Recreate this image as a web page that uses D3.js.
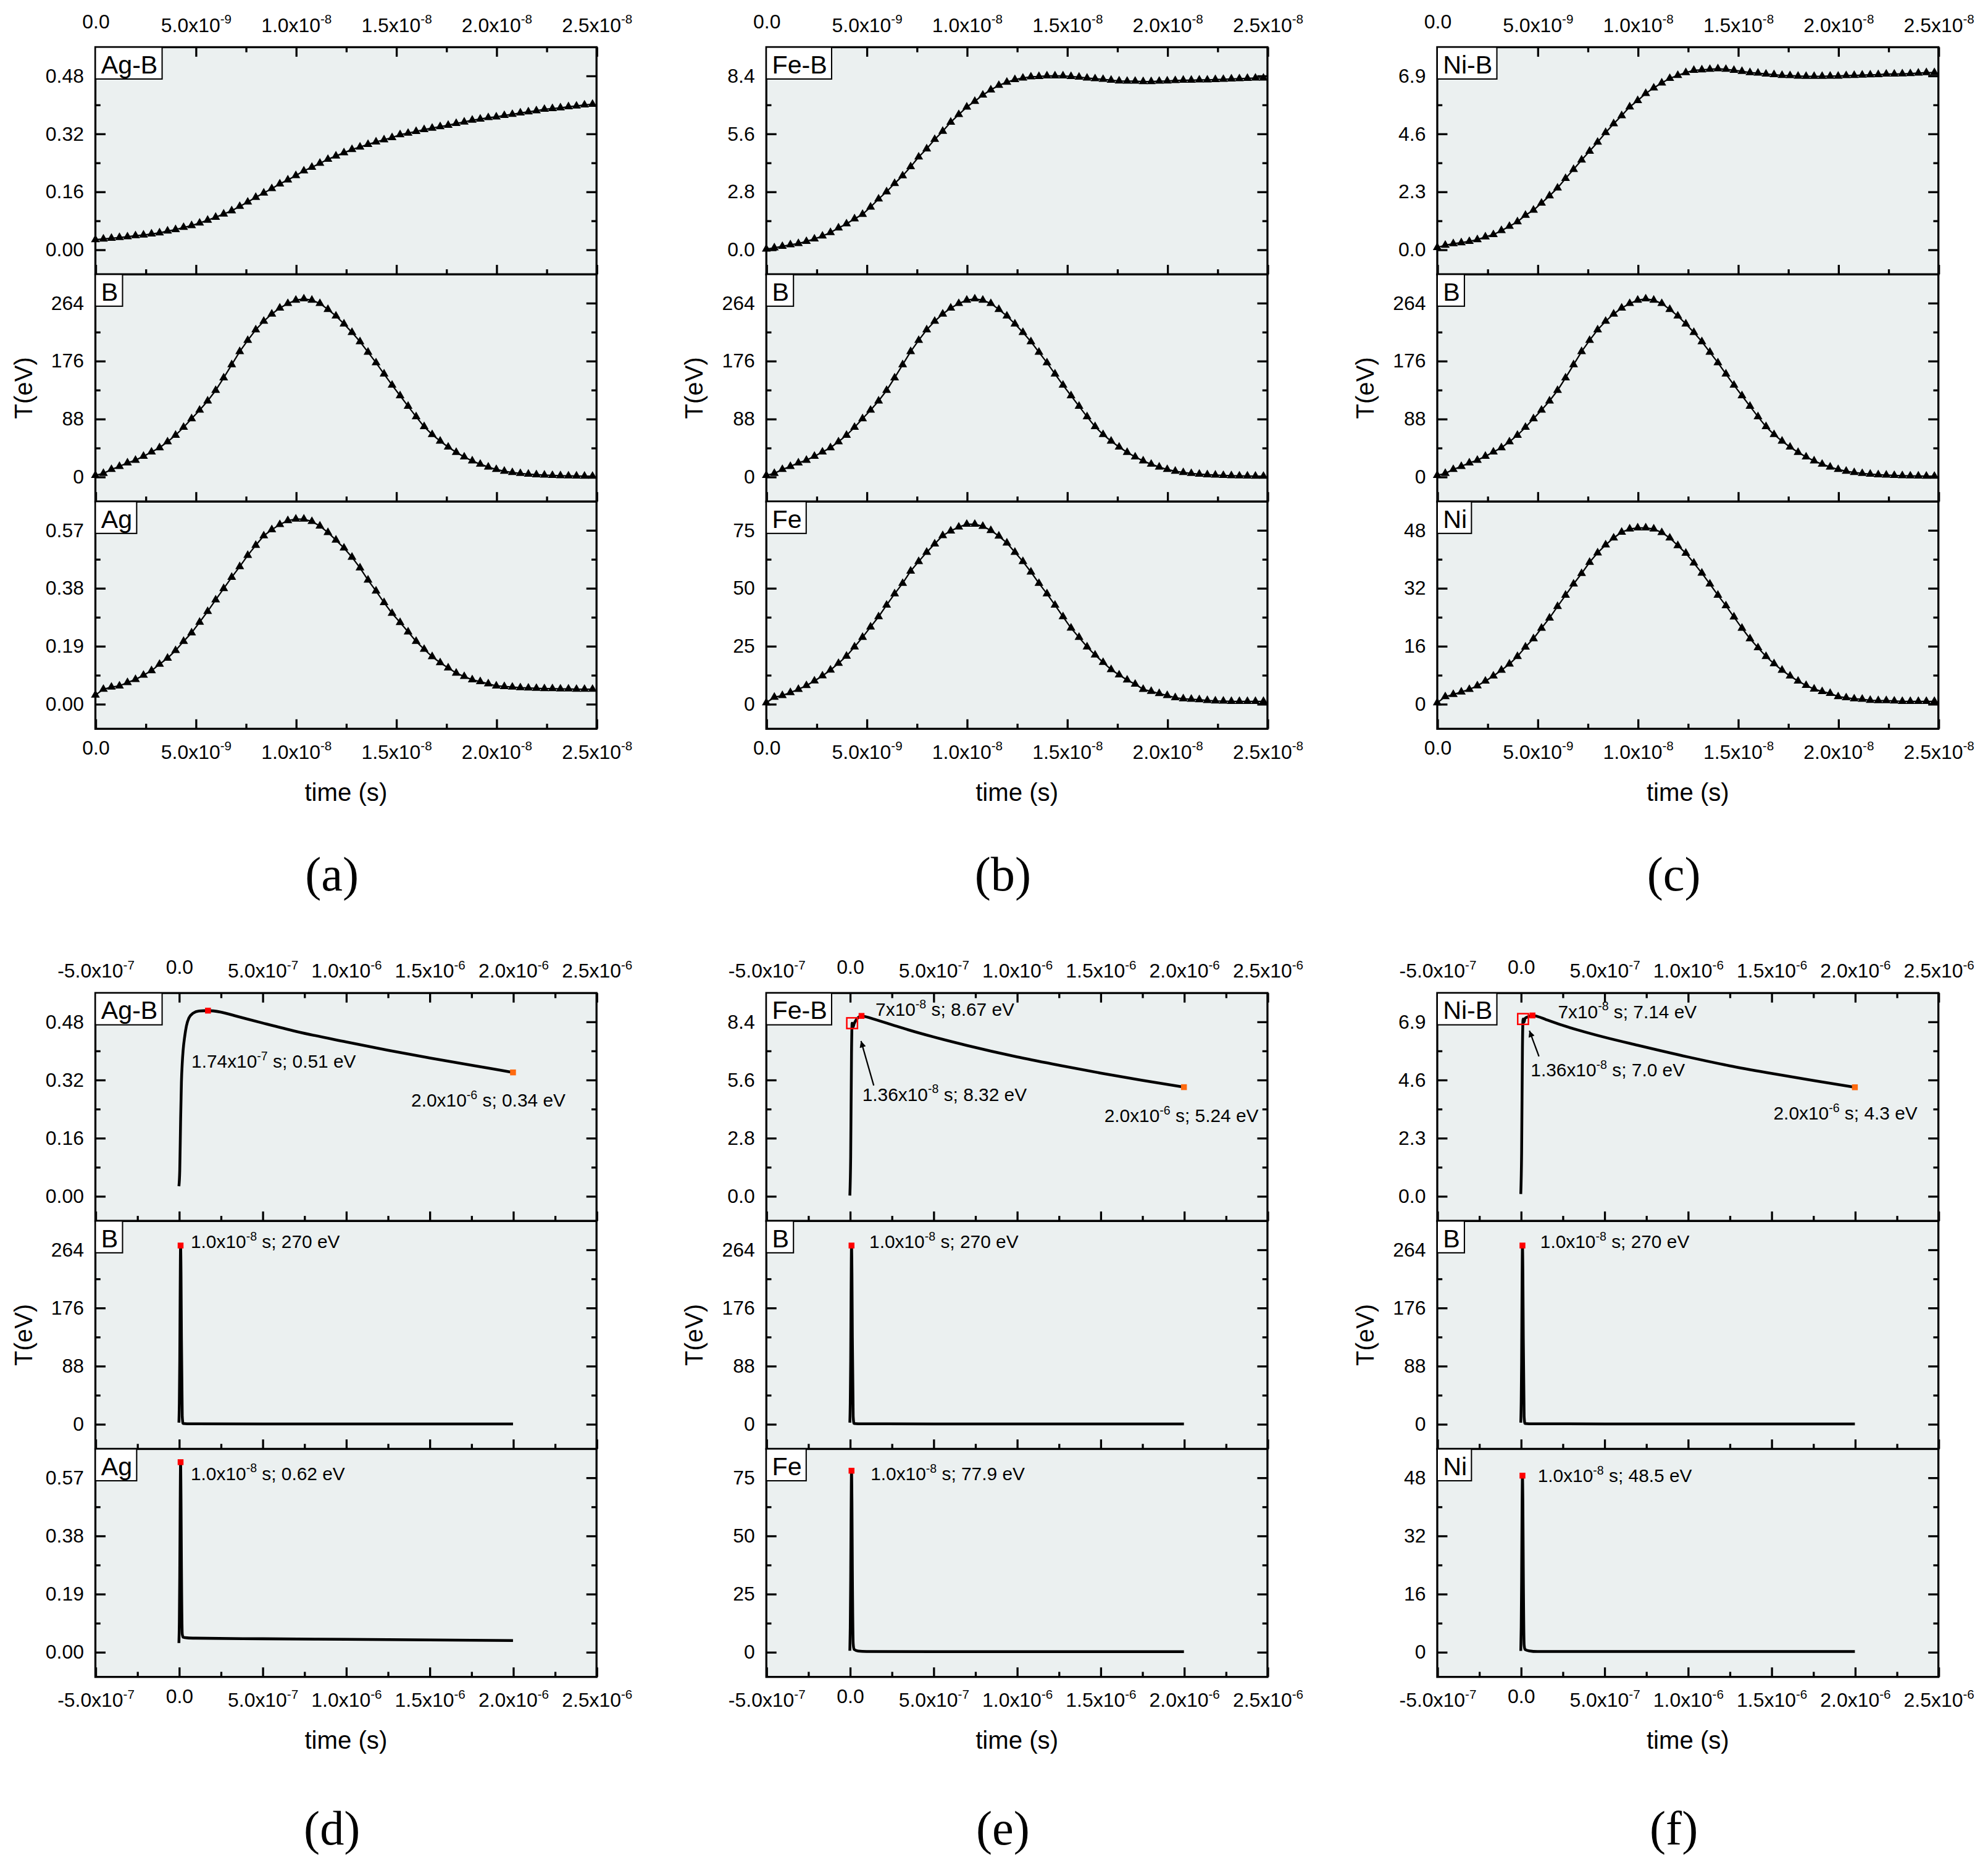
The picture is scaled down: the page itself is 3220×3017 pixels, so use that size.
<!DOCTYPE html>
<html>
<head>
<meta charset="utf-8">
<script src="https://cdnjs.cloudflare.com/ajax/libs/d3/7.8.5/d3.min.js"></script>
<style>
  html, body { margin: 0; padding: 0; background: #fff; overflow: hidden; }
  svg { display: block; }
</style>
</head>
<body>
<svg id="fig"></svg>
<script>
// ---------- short run: 0 .. 2.5e-8 s, one sample every 0.4 ns ----------
const tShort = d3.range(63).map(i => i * 0.4e-9);

const agbShort = [0.027, 0.029, 0.031, 0.033, 0.035, 0.038, 0.040, 0.043, 0.046, 0.051, 0.055, 0.061, 0.066,
  0.073, 0.081, 0.089, 0.098, 0.107, 0.119, 0.131, 0.144, 0.156, 0.168, 0.181, 0.192, 0.204, 0.217, 0.227,
  0.238, 0.249, 0.258, 0.267, 0.276, 0.283, 0.290, 0.297, 0.303, 0.309, 0.317, 0.321, 0.326, 0.331, 0.335,
  0.339, 0.343, 0.348, 0.352, 0.357, 0.360, 0.364, 0.366, 0.370, 0.373, 0.377, 0.380, 0.383, 0.387, 0.389,
  0.391, 0.394, 0.396, 0.399, 0.401];
const bShort = [2, 5, 11, 15.6, 21, 25, 31, 37.5, 44, 53, 63, 75, 88, 101, 115, 131, 150, 170, 190, 207, 223,
  236, 247, 256, 263, 268, 270, 268, 263, 254, 244, 232, 219, 205, 189, 173, 156, 139, 123, 107, 91, 76, 64,
  54, 45, 37, 30, 24, 19, 14.6, 11, 8.3, 6.3, 4.9, 3.9, 3, 2.4, 1.9, 1.5, 1.2, 1.0, 0.8, 0.7];
const agShort = [0.029, 0.048, 0.055, 0.059, 0.070, 0.080, 0.094, 0.109, 0.130, 0.150, 0.175, 0.205, 0.233,
  0.268, 0.303, 0.341, 0.378, 0.415, 0.450, 0.487, 0.520, 0.551, 0.571, 0.588, 0.601, 0.606, 0.606, 0.598,
  0.583, 0.562, 0.537, 0.511, 0.481, 0.446, 0.406, 0.370, 0.332, 0.297, 0.267, 0.236, 0.205, 0.179, 0.155,
  0.135, 0.118, 0.101, 0.090, 0.079, 0.073, 0.066, 0.059, 0.057, 0.055, 0.053, 0.052, 0.051, 0.050, 0.050,
  0.049, 0.049, 0.048, 0.048, 0.048];
const febShort = [0.02, 0.08, 0.15, 0.23, 0.29, 0.39, 0.51, 0.65, 0.82, 1.04, 1.24, 1.48, 1.70, 2.05, 2.44,
  2.79, 3.19, 3.56, 4.00, 4.47, 4.86, 5.32, 5.71, 6.15, 6.52, 6.88, 7.16, 7.46, 7.71, 7.93, 8.08, 8.21, 8.28,
  8.34, 8.36, 8.39, 8.39, 8.39, 8.36, 8.33, 8.28, 8.25, 8.22, 8.18, 8.14, 8.13, 8.13, 8.11, 8.11, 8.13, 8.14,
  8.16, 8.18, 8.18, 8.19, 8.19, 8.21, 8.22, 8.24, 8.25, 8.27, 8.28, 8.28];
const feShort = [0.5, 2.9, 3.6, 4.9, 6.3, 7.9, 9.9, 12.1, 14.6, 17.5, 20.6, 24.6, 28.7, 33.2, 37.6, 42.6, 47.5,
  52.0, 57.3, 61.4, 65.4, 69.0, 72.6, 74.6, 76.3, 77.5, 77.5, 76.6, 74.8, 72.4, 69.4, 65.4, 61.4, 56.9, 52.0,
  47.5, 42.6, 37.6, 32.7, 28.7, 24.6, 21.1, 17.9, 14.8, 12.5, 10.3, 8.5, 6.3, 5.4, 4.5, 3.6, 2.7, 2.2, 2.0,
  1.8, 1.5, 1.3, 1.2, 1.1, 1.1, 1.1, 1.1, 1.1];
const nibShort = [0.08, 0.17, 0.23, 0.27, 0.32, 0.39, 0.50, 0.59, 0.75, 0.92, 1.10, 1.36, 1.56, 1.84, 2.13,
  2.44, 2.82, 3.18, 3.55, 3.90, 4.26, 4.64, 4.99, 5.31, 5.66, 5.91, 6.19, 6.41, 6.61, 6.79, 6.91, 7.02, 7.11,
  7.13, 7.15, 7.17, 7.15, 7.11, 7.07, 7.02, 7.00, 6.96, 6.94, 6.91, 6.90, 6.88, 6.87, 6.87, 6.87, 6.88, 6.88,
  6.90, 6.91, 6.92, 6.93, 6.94, 6.96, 6.96, 6.97, 6.98, 7.00, 7.02, 7.02];
const niShort = [0.3, 2.0, 2.6, 3.3, 4.0, 5.0, 6.3, 7.7, 9.3, 11.0, 13.1, 15.7, 18.0, 20.9, 23.7, 26.9, 30.0,
  33.1, 36.0, 39.1, 41.7, 43.9, 45.8, 47.4, 48.3, 48.6, 48.6, 48.3, 47.3, 45.8, 43.7, 41.6, 38.9, 36.1, 33.1,
  30.0, 27.1, 24.0, 20.9, 18.0, 15.5, 13.1, 11.1, 9.3, 7.7, 6.3, 5.1, 4.1, 3.4, 2.9, 2.0, 1.7, 1.4, 1.3, 1.0,
  0.9, 0.9, 0.8, 0.7, 0.7, 0.7, 0.7, 0.7];

// ---------- long run: up to 2e-6 s ----------
const tSpike = [0, 2.5e-9, 5e-9, 7.5e-9, 1e-8, 1.25e-8, 1.5e-8, 2e-8, 2.5e-8, 5e-8, 1e-7, 5e-7, 1e-6, 1.5e-6, 2e-6];
const bLong  = [2, 32.6, 94.5, 203, 270, 229, 131, 11, 0.7, 0.3, 0.2, 0.1, 0.1, 0.1, 0.1];
const agLong = [0.029, 0.098, 0.25, 0.478, 0.62, 0.50, 0.282, 0.059, 0.048, 0.046, 0.045, 0.043, 0.041, 0.039, 0.037];
const feLong = [0.5, 10.5, 30.8, 60.4, 77.9, 64.4, 35.2, 3.6, 1.1, 0.4, 0.2, 0.1, 0.1, 0.1, 0.1];
const niLong = [0.3, 6.65, 19.5, 38.3, 48.5, 40.9, 22.5, 2.0, 0.7, 0.3, 0.1, 0.1, 0.1, 0.1, 0.1];

const tAgbLong = [0, 5e-9, 1e-8, 1.5e-8, 2e-8, 2.5e-8, 3.5e-8, 4.5e-8, 6e-8, 8.5e-8, 1.2e-7, 1.74e-7, 2.5e-7,
  3.5e-7, 5e-7, 7e-7, 1e-6, 1.25e-6, 1.5e-6, 1.75e-6, 2e-6];
const agbLong = [0.027, 0.07, 0.204, 0.313, 0.366, 0.40, 0.44, 0.468, 0.49, 0.503, 0.509, 0.51, 0.506, 0.494,
  0.476, 0.453, 0.424, 0.401, 0.38, 0.36, 0.34];

const tAlloyLong = [0, 5e-9, 1e-8, 1.36e-8, 2e-8, 2.5e-8, 4e-8, 7e-8, 1e-7, 1.5e-7, 2.5e-7, 3.5e-7, 5e-7, 7e-7,
  1e-6, 1.25e-6, 1.5e-6, 1.75e-6, 2e-6];
const febLong = [0.02, 1.88, 6.88, 8.32, 8.14, 8.28, 8.5, 8.67, 8.62, 8.5, 8.25, 8.0, 7.66, 7.25, 6.7, 6.3, 5.92, 5.57, 5.24];
const nibLong = [0.08, 1.70, 5.91, 7.0, 6.88, 7.02, 7.08, 7.14, 7.1, 6.98, 6.75, 6.55, 6.28, 5.96, 5.5, 5.15, 4.85, 4.57, 4.3];

// ---------- annotated points ----------
const agbNotes = [
  { t: 1.74e-7, v: 0.51, mark: "red",    text: ["1.74x10", "-7", " s; 0.51 eV"] },
  { t: 2e-6,    v: 0.34, mark: "orange", text: ["2.0x10", "-6", " s; 0.34 eV"] }
];
const febNotes = [
  { t: 1.36e-8, v: 8.32, mark: "box",    text: ["1.36x10", "-8", " s; 8.32 eV"] },
  { t: 7e-8,    v: 8.67, mark: "red",    text: ["7x10", "-8", " s; 8.67 eV"] },
  { t: 2e-6,    v: 5.24, mark: "orange", text: ["2.0x10", "-6", " s; 5.24 eV"] }
];
const nibNotes = [
  { t: 1.36e-8, v: 7.0,  mark: "box",    text: ["1.36x10", "-8", " s; 7.0 eV"] },
  { t: 7e-8,    v: 7.14, mark: "red",    text: ["7x10", "-8", " s; 7.14 eV"] },
  { t: 2e-6,    v: 4.3,  mark: "orange", text: ["2.0x10", "-6", " s; 4.3 eV"] }
];
const bNotes  = [{ t: 1e-8, v: 270,  mark: "red", text: ["1.0x10", "-8", " s; 270 eV"] }];
const agNotes = [{ t: 1e-8, v: 0.62, mark: "red", text: ["1.0x10", "-8", " s; 0.62 eV"] }];
const feNotes = [{ t: 1e-8, v: 77.9, mark: "red", text: ["1.0x10", "-8", " s; 77.9 eV"] }];
const niNotes = [{ t: 1e-8, v: 48.5, mark: "red", text: ["1.0x10", "-8", " s; 48.5 eV"] }];

// ---------- ticks ----------
const xTicksShort = [0, 5e-9, 1e-8, 1.5e-8, 2e-8, 2.5e-8];
const xTicksLong  = [-5e-7, 0, 5e-7, 1e-6, 1.5e-6, 2e-6, 2.5e-6];
const yTicksAgB = [0, 0.16, 0.32, 0.48];
const yTicksB   = [0, 88, 176, 264];
const yTicksAg  = [0, 0.19, 0.38, 0.57];
const yTicksFeB = [0, 2.8, 5.6, 8.4];
const yTicksFe  = [0, 25, 50, 75];
const yTicksNiB = [0, 2.3, 4.6, 6.9];
const yTicksNi  = [0, 16, 32, 48];

const panelLetters = [["(a)", "(d)"], ["(b)", "(e)"], ["(c)", "(f)"]];

// ---------- figure structure ----------
const columns = [
  [
    { label: "Ag-B", ticks: yTicksAgB, fmt: ".2f", short: agbShort, longT: tAgbLong, longV: agbLong, notes: agbNotes },
    { label: "B",    ticks: yTicksB,   fmt: "d",   short: bShort,   longT: tSpike,   longV: bLong,   notes: bNotes },
    { label: "Ag",   ticks: yTicksAg,  fmt: ".2f", short: agShort,  longT: tSpike,   longV: agLong,  notes: agNotes }
  ],
  [
    { label: "Fe-B", ticks: yTicksFeB, fmt: ".1f", short: febShort, longT: tAlloyLong, longV: febLong, notes: febNotes },
    { label: "B",    ticks: yTicksB,   fmt: "d",   short: bShort,   longT: tSpike,     longV: bLong,   notes: bNotes },
    { label: "Fe",   ticks: yTicksFe,  fmt: "d",   short: feShort,  longT: tSpike,     longV: feLong,  notes: feNotes }
  ],
  [
    { label: "Ni-B", ticks: yTicksNiB, fmt: ".1f", short: nibShort, longT: tAlloyLong, longV: nibLong, notes: nibNotes },
    { label: "B",    ticks: yTicksB,   fmt: "d",   short: bShort,   longT: tSpike,     longV: bLong,   notes: bNotes },
    { label: "Ni",   ticks: yTicksNi,  fmt: "d",   short: niShort,  longT: tSpike,     longV: niLong,  notes: niNotes }
  ]
];

// text offsets (px) of each note from its point; arrows: tail and tip from the point
const noteOffsets = [
  [[{ dx: -13, dy: 45 }, { dx: -80, dy: 27 }], [{ dx: 8, dy: 2 }], [{ dx: 8, dy: 14 }]],
  [[{ dx: 8, dy: 61, tail: [17, 49], tip: [7, 14] }, { dx: 11, dy: 0 }, { dx: -62.6, dy: 27.4 }],
   [{ dx: 14, dy: 2 }], [{ dx: 15, dy: 7.5 }]],
  [[{ dx: 6, dy: 45, tail: [12.5, 29.4], tip: [5, 9.2] }, { dx: 20, dy: 2 }, { dx: -64, dy: 25.3 }],
   [{ dx: 14, dy: 2 }], [{ dx: 12, dy: 5 }]]
];

// ---------- layout ----------
const W = 3220, H = 3017;
const K = W / 1563;            // drawing units -> pixels
const colX = [75, 602.5, 1130];
const plotW = 394;
const rowTop = [37.1, 780.6];
const partH = [178.6, 179.2];
const letterY = [700, 1450];
const BG = "#ebf0f0";
const FONT = '"Liberation Sans", Arial, Helvetica, sans-serif';

const svg = d3.select("#fig")
  .attr("width", W).attr("height", H)
  .attr("viewBox", `0 0 1563 ${H / K}`);

svg.append("rect").attr("width", 1563).attr("height", H / K).attr("fill", "#fff");

svg.append("defs").append("marker")
  .attr("id", "arrowHead")
  .attr("viewBox", "0 0 10 10")
  .attr("refX", 10).attr("refY", 5)
  .attr("markerUnits", "userSpaceOnUse")
  .attr("markerWidth", 9).attr("markerHeight", 5)
  .attr("orient", "auto")
  .append("path").attr("d", "M0,0 L10,5 L0,10 Z").attr("fill", "#000");

const minorOf = ticks => d3.pairs(ticks, (a, b) => (a + b) / 2);

function sciParts(v) {
  if (v === 0) return ["0.0", null];
  const e = Math.floor(Math.log10(Math.abs(v)) + 1e-9);
  return [(v / Math.pow(10, e)).toFixed(1) + "x10", String(e)];
}

function writeSci(text, parts, size, supSize, supDy) {
  text.text(null);
  text.append("tspan").text(parts[0]);
  if (parts[1] != null) text.append("tspan").attr("dy", supDy).attr("font-size", supSize).text(parts[1]);
  if (parts[2] != null) text.append("tspan").attr("dy", -supDy).attr("font-size", size).text(parts[2]);
}

function styleAxis(g) {
  g.select(".domain").remove();
  g.selectAll(".tick line").attr("stroke", "#000").attr("stroke-width", 1.6);
  g.attr("font-family", FONT).attr("font-size", 15.5);
}

const line = d3.line();
const tri = d3.symbol().type(d3.symbolTriangle).size(21);

columns.forEach((parts, c) => {
  const x0 = colX[c];
  [0, 1].forEach(r => {
    const isLong = r === 1;
    const xTicks = isLong ? xTicksLong : xTicksShort;
    const x = d3.scaleLinear().domain(d3.extent(xTicks)).range([x0, x0 + plotW]);
    const h = partH[r];
    const g = svg.append("g");

    parts.forEach((p, i) => {
      const y0 = rowTop[r] + i * h;
      const step = p.ticks[1] - p.ticks[0];
      const y = d3.scaleLinear().domain([-0.43 * step, 3.49 * step]).range([y0 + h, y0]);
      const pg = g.append("g");

      pg.append("rect").attr("x", x0).attr("y", y0).attr("width", plotW).attr("height", h).attr("fill", BG);

      // curve
      line.x(d => x(d[0])).y(d => y(d[1]));
      if (!isLong) {
        const pts = tShort.map((t, k) => [t, p.short[k]]);
        line.curve(d3.curveLinear);
        pg.append("path").attr("d", line(pts)).attr("fill", "none")
          .attr("stroke", "#000").attr("stroke-width", 1.1);
        pg.append("g").selectAll("path").data(pts).join("path")
          .attr("d", tri)
          .attr("transform", d => `translate(${x(d[0])},${y(d[1])})`)
          .attr("fill", "#000");
      } else {
        const pts = p.longT.map((t, k) => [t, p.longV[k]]);
        line.curve(d3.curveMonotoneX);
        pg.append("path").attr("d", line(pts)).attr("fill", "none")
          .attr("stroke", "#000").attr("stroke-width", 2.2).attr("stroke-linejoin", "round");
      }

      // axes
      const fmt = d3.format(p.fmt);
      pg.append("g").attr("transform", `translate(${x0},0)`)
        .call(d3.axisLeft(y).tickValues(p.ticks).tickSize(-8).tickPadding(9).tickFormat(fmt))
        .call(styleAxis);
      pg.append("g").attr("transform", `translate(${x0},0)`)
        .call(d3.axisLeft(y).tickValues(minorOf(p.ticks)).tickSize(-4).tickFormat(""))
        .call(styleAxis);
      pg.append("g").attr("transform", `translate(${x0 + plotW},0)`)
        .call(d3.axisRight(y).tickValues(p.ticks).tickSize(-8).tickFormat("")).call(styleAxis);
      pg.append("g").attr("transform", `translate(${x0 + plotW},0)`)
        .call(d3.axisRight(y).tickValues(minorOf(p.ticks)).tickSize(-4).tickFormat("")).call(styleAxis);

      const bottom = pg.append("g").attr("transform", `translate(0,${y0 + h})`)
        .call(d3.axisBottom(x).tickValues(xTicks).tickSize(-7.5).tickFormat(i === 2 ? (d => d) : ""))
        .call(styleAxis);
      pg.append("g").attr("transform", `translate(0,${y0 + h})`)
        .call(d3.axisBottom(x).tickValues(minorOf(xTicks)).tickSize(-4).tickFormat(""))
        .call(styleAxis);
      if (i === 2) {
        bottom.selectAll(".tick text")
          .attr("dy", null)
          .attr("y", d => d === 0 ? 20.5 : 23.5)
          .each(function (d) { writeSci(d3.select(this), sciParts(d), 15.5, 10, -6.5); });
      }
      if (i === 0) {
        const top = pg.append("g").attr("transform", `translate(0,${y0})`)
          .call(d3.axisTop(x).tickValues(xTicks).tickSize(-7.5).tickFormat(d => d))
          .call(styleAxis);
        top.selectAll(".tick text")
          .attr("dy", null)
          .attr("y", d => d === 0 ? -15 : -12)
          .each(function (d) { writeSci(d3.select(this), sciParts(d), 15.5, 10, -6.5); });
        pg.append("g").attr("transform", `translate(0,${y0})`)
          .call(d3.axisTop(x).tickValues(minorOf(xTicks)).tickSize(-4).tickFormat(""))
          .call(styleAxis);
      }

      // frame
      pg.append("rect").attr("x", x0).attr("y", y0).attr("width", plotW).attr("height", h)
        .attr("fill", "none").attr("stroke", "#000").attr("stroke-width", 1.6);

      // element label box
      const box = pg.append("rect")
        .attr("x", x0).attr("y", y0).attr("height", 25)
        .attr("fill", "#fff").attr("stroke", "#000").attr("stroke-width", 1);
      const lab = pg.append("text").attr("x", x0 + 4.5).attr("y", y0 + 20.5)
        .attr("font-family", FONT).attr("font-size", 20).text(p.label);
      box.attr("width", lab.node().getComputedTextLength() + 8);

      // annotations (long run only)
      if (isLong) {
        p.notes.forEach((n, k) => {
          const off = noteOffsets[c][i][k];
          const px = x(n.t), py = y(n.v);
          if (n.mark === "box") {
            pg.append("rect").attr("x", px - 4.2).attr("y", py - 4.2).attr("width", 8.4).attr("height", 8.4)
              .attr("fill", "none").attr("stroke", "#ff0000").attr("stroke-width", 1.2);
          } else {
            pg.append("rect").attr("x", px - 2.3).attr("y", py - 2.3).attr("width", 4.6).attr("height", 4.6)
              .attr("fill", n.mark === "red" ? "#ff0000" : "#ff6a10");
          }
          if (off.tail) {
            pg.append("line")
              .attr("x1", px + off.tail[0]).attr("y1", py + off.tail[1])
              .attr("x2", px + off.tip[0]).attr("y2", py + off.tip[1])
              .attr("stroke", "#000").attr("stroke-width", 1.1)
              .attr("marker-end", "url(#arrowHead)");
          }
          const t = pg.append("text").attr("x", px + off.dx).attr("y", py + off.dy)
            .attr("font-family", FONT).attr("font-size", 14.5);
          writeSci(t, n.text, 14.5, 9.5, -6);
        });
      }
    });

    // axis titles and panel letter
    const yMid = rowTop[r] + 1.5 * h;
    g.append("text")
      .attr("transform", `translate(${x0 - 50},${yMid}) rotate(-90)`)
      .attr("text-anchor", "middle").attr("font-family", FONT).attr("font-size", 19.5)
      .text("T(eV)");
    g.append("text")
      .attr("x", x0 + plotW / 2).attr("y", rowTop[r] + 3 * h + 56.5)
      .attr("text-anchor", "middle").attr("font-family", FONT).attr("font-size", 19.5)
      .text("time (s)");
    g.append("text")
      .attr("x", x0 + plotW / 2 - 11).attr("y", letterY[r])
      .attr("text-anchor", "middle").attr("font-family", '"Liberation Serif", "Times New Roman", serif')
      .attr("font-size", 38)
      .text(panelLetters[c][r]);
  });
});
</script>
</body>
</html>
